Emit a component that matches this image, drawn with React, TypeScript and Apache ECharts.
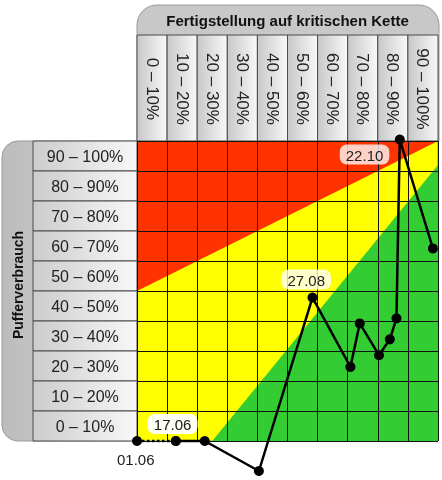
import React, { useEffect, useRef } from "react";
import * as echarts from "echarts";

const colLabels = ["0 – 10%", "10 – 20%", "20 – 30%", "30 – 40%", "40 – 50%", "50 – 60%", "60 – 70%", "70 – 80%", "80 – 90%", "90 – 100%"];
const rowLabels = ["90 – 100%", "80 – 90%", "70 – 80%", "60 – 70%", "50 – 60%", "40 – 50%", "30 – 40%", "20 – 30%", "10 – 20%", "0 – 10%"];
const topTitle = "Fertigstellung auf kritischen Kette";
const leftTitle = "Pufferverbrauch";

// zone boundaries [x%, y%]
const redBoundary = [[0, 50], [100, 100]];
const greenBoundary = [[25, 0], [100, 92]];

// track: completion (x) and buffer consumption (y)
const trackX = [0, 12.9, 22.5, 40.5, 58.3, 70.9, 74, 80.4, 84, 86.2, 87.3, 98.3];
const trackY = [0, 0, 0, -10, 47.8, 24.7, 39.2, 28.6, 33.9, 40.9, 100.5, 64.2];
const trackLabels = ["01.06", "17.06", "", "", "27.08", "", "", "", "", "", "22.10", ""];

const GL = 137, GT = 141, GW = 301, GH = 300;

export default function App() {
  const ref = useRef<HTMLDivElement>(null);
  useEffect(() => {
    if (!ref.current) return;
    const chart = echarts.init(ref.current, undefined, { renderer: "svg" });
    const font = "Liberation Sans, Arial, sans-serif";
    const cw = GW / colLabels.length;
    const rh = GH / rowLabels.length;
    const graphics: any[] = [];
    // top header
    graphics.push({
      type: "rect", shape: { x: GL, y: 5, width: GW + 1, height: GT - 5, r: [20, 20, 0, 0] },
      style: { fill: "#c8c8c8", stroke: "#9a9a9a", lineWidth: 1 },
    });
    graphics.push({
      type: "text", x: GL + GW / 2, y: 20,
      style: { text: topTitle, font: `bold 15px ${font}`, fill: "#111", align: "center", verticalAlign: "middle" },
    });
    colLabels.forEach((l, i) => {
      graphics.push({
        type: "rect", shape: { x: GL + i * cw, y: 35, width: cw, height: GT - 35 },
        style: {
          fill: { type: "linear", x: 0, y: 0, x2: 1, y2: 0, colorStops: [{ offset: 0, color: "#c8c8c8" }, { offset: 1, color: "#f8f8f8" }] },
          stroke: "#4a4a4a", lineWidth: 1,
        },
      });
      graphics.push({
        type: "text", x: GL + i * cw + cw / 2, y: 35 + (GT - 35) / 2 + 1, rotation: -Math.PI / 2,
        style: { text: l, font: `17px ${font}`, fill: "#222", align: "center", verticalAlign: "middle" },
      });
    });
    // left header
    graphics.push({
      type: "rect", shape: { x: 2, y: GT, width: GL - 2, height: GH, r: [16, 0, 0, 16] },
      style: {
        fill: { type: "linear", x: 0, y: 0, x2: 1, y2: 0, colorStops: [{ offset: 0, color: "#bcbcbc" }, { offset: 1, color: "#d6d6d6" }] },
        stroke: "#9a9a9a", lineWidth: 1,
      },
    });
    graphics.push({
      type: "text", x: 18, y: GT + GH / 2 - 6, rotation: Math.PI / 2,
      style: { text: leftTitle, font: `bold 14px ${font}`, fill: "#111", align: "center", verticalAlign: "middle" },
    });
    rowLabels.forEach((l, j) => {
      graphics.push({
        type: "rect", shape: { x: 33, y: GT + j * rh, width: GL - 33, height: rh },
        style: {
          fill: { type: "linear", x: 0, y: 0, x2: 1, y2: 0, colorStops: [{ offset: 0, color: "#cccccc" }, { offset: 1, color: "#f8f8f8" }] },
          stroke: "#4a4a4a", lineWidth: 1,
        },
      });
      graphics.push({
        type: "text", x: 33 + (GL - 33) / 2, y: GT + j * rh + rh / 2,
        style: { text: l, font: `16px ${font}`, fill: "#222", align: "center", verticalAlign: "middle" },
      });
    });

    const boxed = {
      fontSize: 15, fontFamily: font, color: "#222",
      backgroundColor: "rgba(255,255,255,0.8)", borderRadius: 7, padding: [3, 6, 2, 6],
    };
    const labelFor = (lbl: string): any => {
      if (lbl === "01.06") return { show: true, position: [-15, 16], formatter: lbl, fontSize: 15, fontFamily: font, color: "#222" };
      if (lbl === "17.06") return { show: true, position: [-23, -22], formatter: lbl, ...boxed };
      if (lbl === "27.08") return { show: true, position: [-26, -23], formatter: lbl, ...boxed };
      if (lbl === "22.10") return { show: true, position: [-55, 10], formatter: lbl, ...boxed, backgroundColor: "rgba(255,255,255,0.78)" };
      return { show: false };
    };
    const pts = trackX.map((x, i) => ({ value: [x, trackY[i]], label: labelFor(trackLabels[i]) }));

    chart.setOption({
      animation: false,
      textStyle: { fontFamily: font },
      graphic: graphics,
      grid: { left: GL, top: GT, width: GW, height: GH, show: true, backgroundColor: "#ffff00", borderColor: "#888", borderWidth: 1, z: 0 },
      xAxis: {
        type: "value", min: 0, max: 100, interval: 10, z: 4,
        axisLine: { show: false }, axisTick: { show: false }, axisLabel: { show: false },
        splitLine: { show: true, lineStyle: { color: "#111", width: 1 } },
      },
      yAxis: {
        type: "value", min: 0, max: 100, interval: 10, z: 4,
        axisLine: { show: false }, axisTick: { show: false }, axisLabel: { show: false },
        splitLine: { show: true, lineStyle: { color: "#111", width: 1 } },
      },
      series: [
        {
          type: "line", data: redBoundary, symbol: "none", z: 1, silent: true,
          lineStyle: { width: 0 }, areaStyle: { color: "#ff3300", opacity: 1, origin: "end" },
        },
        {
          type: "line", data: greenBoundary, symbol: "none", z: 1, silent: true,
          lineStyle: { width: 0 }, areaStyle: { color: "#33cc33", opacity: 1, origin: "start" },
        },
        {
          type: "line", data: pts.slice(0, 2), z: 5, clip: false,
          symbol: "circle", symbolSize: 10, itemStyle: { color: "#000" },
          lineStyle: { color: "#000", width: 2.5, type: "dotted" },
        },
        {
          type: "line", data: pts.slice(1), z: 6, clip: false,
          symbol: "circle", symbolSize: 10, itemStyle: { color: "#000" },
          lineStyle: { color: "#000", width: 2.5 },
        },
      ],
    });
    return () => chart.dispose();
  }, []);
  return <div ref={ref} style={{ position: "fixed", left: 0, top: 0, width: 442, height: 480 }} />;
}
